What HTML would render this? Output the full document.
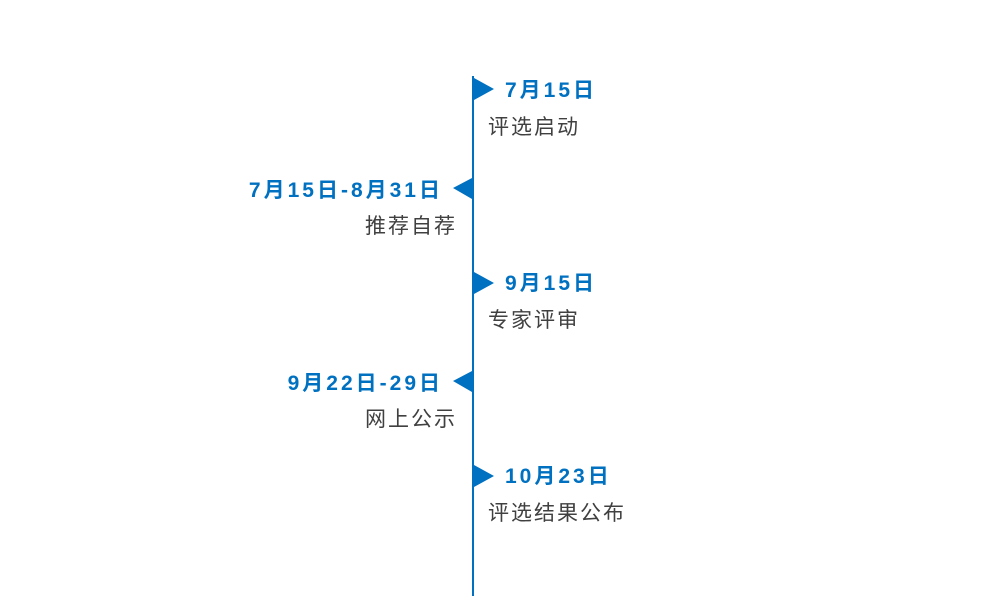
<!DOCTYPE html>
<html><head><meta charset="utf-8"><style>
body{margin:0;width:996px;height:611px;background:#fff;position:relative;overflow:hidden;font-family:"Liberation Sans","Noto Sans CJK SC",sans-serif}
.d{position:absolute;color:#0070c0;font-weight:bold;font-size:21px;letter-spacing:3px;line-height:24px;white-space:nowrap}
.l{position:absolute;color:#404040;font-size:21px;letter-spacing:2px;line-height:24px;white-space:nowrap}
.r{text-align:right}
</style></head><body>
<svg width="996" height="611" style="position:absolute;left:0;top:0">
<rect x="472" y="76" width="2" height="520" fill="#0070c0"/>
<polygon points="474,78 494,89 474,100" fill="#0070c0"/>
<polygon points="472,178 453,188 472,199" fill="#0070c0"/>
<polygon points="474,272 494,283 474,294" fill="#0070c0"/>
<polygon points="472,371 453,381 472,392" fill="#0070c0"/>
<polygon points="474,465 494,476 474,487" fill="#0070c0"/>
</svg>
<div class="d" style="left:505px;top:79px">7月15日</div>
<div class="l" style="left:488px;top:116px">评选启动</div>
<div class="d r" style="right:553px;top:179px">7月15日-8月31日</div>
<div class="l r" style="right:539px;top:215px">推荐自荐</div>
<div class="d" style="left:505px;top:272px">9月15日</div>
<div class="l" style="left:488px;top:309px">专家评审</div>
<div class="d r" style="right:553px;top:372px">9月22日-29日</div>
<div class="l r" style="right:539px;top:408px">网上公示</div>
<div class="d" style="left:505px;top:465px">10月23日</div>
<div class="l" style="left:488px;top:502px">评选结果公布</div>
</body></html>
